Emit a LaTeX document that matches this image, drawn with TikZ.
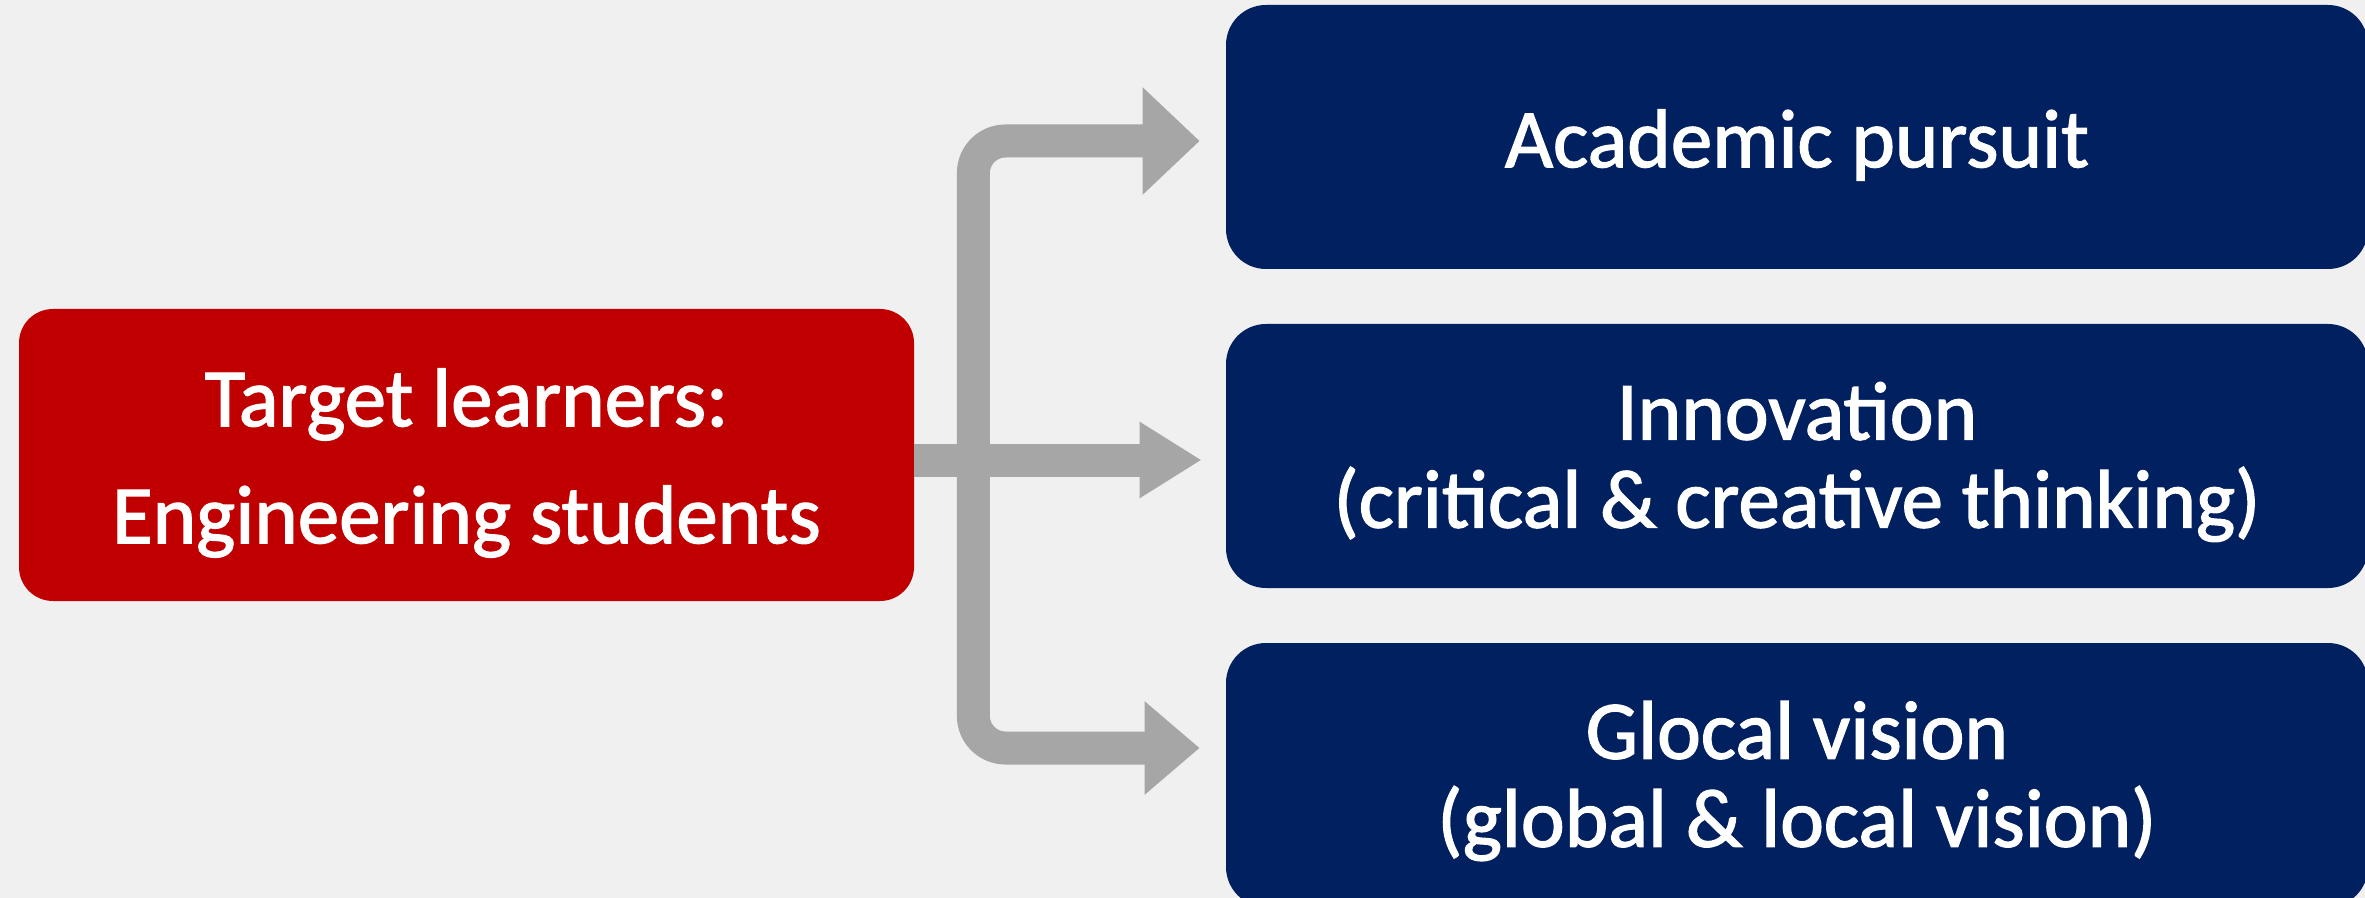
\documentclass[tikz,border=0pt]{standalone}
\usepackage{fontspec}
\setmainfont{Carlito}
\newfontfamily\boxfont{Carlito}[FakeBold=1.6]
\usetikzlibrary{arrows.meta,calc}
\definecolor{bg}{HTML}{F0F0F0}
\definecolor{redbox}{HTML}{C00000}
\definecolor{navy}{HTML}{002060}
\definecolor{arrowgray}{HTML}{A6A6A6}
\begin{document}
\begin{tikzpicture}[x=0.5pt,y=-0.5pt,
  redstyle/.style={fill=redbox, rounded corners=17pt,
    minimum width=447.5pt, minimum height=146pt, inner sep=0pt},
  bluestyle/.style={fill=navy, rounded corners=20pt,
    minimum width=571pt, minimum height=132pt, inner sep=0pt},
  redtxt/.style={text=white, font=\boxfont\fontsize{41.5}{58.5}\selectfont,
    align=center, inner sep=0pt},
  bluetxt/.style={text=white, font=\boxfont\fontsize{41.5}{44}\selectfont,
    align=center, inner sep=0pt},
  arr/.style={draw=arrowgray, line width=16.5pt}
]
\fill[bg] (0,0) rectangle (2365,898);
\useasboundingbox (0,0) rectangle (2365,898);

\node[redstyle] (red) at (466.5,455) {};
\node[bluestyle] (b1) at (1797,137) {};
\node[bluestyle] (b2) at (1797,456) {};
\node[bluestyle] (b3) at (1797,775) {};

\node[redtxt] (redt) at ([yshift=-4pt]red.center) {Target learners:\\Engineering students};
\node[bluetxt] (b1t) at ([yshift=-4pt]b1.center) {Academic pursuit};
\node[bluetxt] (b2t) at ([yshift=-3pt]b2.center) {Innovation\\(critical \& creative thinking)};
\node[bluetxt] (b3t) at ([yshift=-3pt]b3.center) {Glocal vision\\(global \& local vision)};

\coordinate (ju) at ($(red.east)+(59,0)$);
\coordinate (jd) at ($(red.east)+(59,10)$);
\coordinate (t1) at ($(b1.west)+(-26,4)$);
\coordinate (t2) at ($(b2.west)+(-24,4)$);
\coordinate (t3) at ($(b3.west)+(-26,-27)$);

\draw[arr, -{Triangle[length=31pt,width=36pt]}] (red.east) ++(0,5) -- (t2);
\draw[arr, rounded corners=16pt, -{Triangle[length=28.5pt,width=52pt]}] (ju) |- (t1);
\draw[arr, rounded corners=16pt, -{Triangle[length=27.5pt,width=45pt]}] (jd) |- (t3);
\end{tikzpicture}
\end{document}
